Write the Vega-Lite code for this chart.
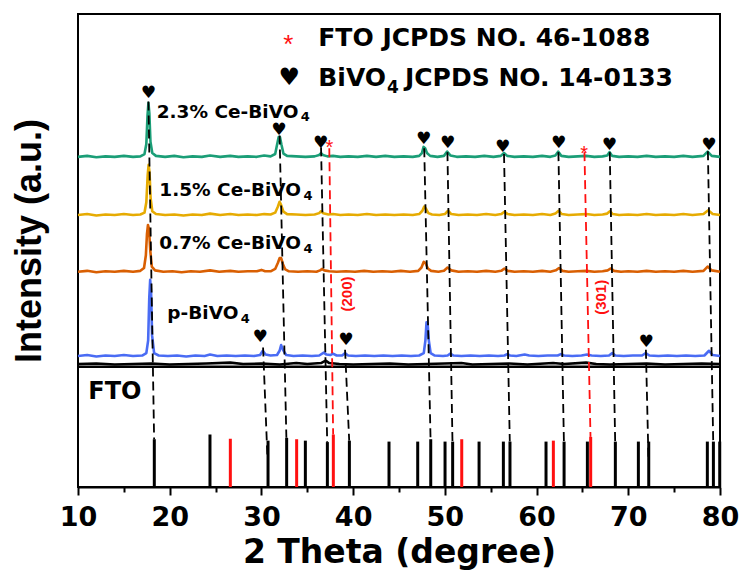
{
  "$schema": "https://vega.github.io/schema/vega-lite/v6.json",
  "width": 642,
  "height": 473,
  "autosize": "none",
  "padding": {"left": 78, "top": 14, "right": 23, "bottom": 92},
  "background": "white",
  "config": {
    "view": {"stroke": "black", "strokeWidth": 2},
    "axis": {"grid": false}
  },
  "datasets": {
    "traces": [
      {"s":"G","x":10,"y":69.8},{"s":"G","x":11,"y":70.0},{"s":"G","x":12,"y":69.7},{"s":"G","x":13,"y":69.9},{"s":"G","x":14,"y":69.8},{"s":"G","x":15,"y":70.0},{"s":"G","x":16,"y":69.8},{"s":"G","x":16.8,"y":69.9},{"s":"G","x":17.25,"y":70.4},{"s":"G","x":17.45,"y":72.5},{"s":"G","x":17.58,"y":78.5},{"s":"G","x":17.68,"y":81.2},{"s":"G","x":17.78,"y":79},{"s":"G","x":17.9,"y":73},{"s":"G","x":18.1,"y":70.6},{"s":"G","x":18.5,"y":70.0},{"s":"G","x":19.5,"y":69.8},{"s":"G","x":20.5,"y":70.0},{"s":"G","x":21.5,"y":69.7},{"s":"G","x":22.5,"y":69.9},{"s":"G","x":23.5,"y":69.8},{"s":"G","x":24.4,"y":70.1},{"s":"G","x":25.5,"y":69.8},{"s":"G","x":26.6,"y":70.0},{"s":"G","x":27.5,"y":69.8},{"s":"G","x":28.5,"y":69.9},{"s":"G","x":29.5,"y":69.8},{"s":"G","x":30.3,"y":70.1},{"s":"G","x":31.0,"y":69.9},{"s":"G","x":31.5,"y":70.4},{"s":"G","x":31.72,"y":72.5},{"s":"G","x":31.88,"y":74.0},{"s":"G","x":32.02,"y":74.0},{"s":"G","x":32.18,"y":72.4},{"s":"G","x":32.4,"y":70.5},{"s":"G","x":32.8,"y":70.0},{"s":"G","x":33.8,"y":69.9},{"s":"G","x":34.8,"y":69.8},{"s":"G","x":35.8,"y":69.9},{"s":"G","x":36.3,"y":70.2},{"s":"G","x":36.5,"y":70.6},{"s":"G","x":36.7,"y":70.2},{"s":"G","x":37.2,"y":69.9},{"s":"G","x":37.8,"y":70.0},{"s":"G","x":38.6,"y":69.8},{"s":"G","x":39.5,"y":69.9},{"s":"G","x":40.5,"y":69.8},{"s":"G","x":41.5,"y":70.0},{"s":"G","x":42.5,"y":69.8},{"s":"G","x":43.5,"y":70.0},{"s":"G","x":44.5,"y":69.8},{"s":"G","x":45.5,"y":69.9},{"s":"G","x":46.5,"y":69.8},{"s":"G","x":47.2,"y":70.0},{"s":"G","x":47.5,"y":70.6},{"s":"G","x":47.68,"y":71.9},{"s":"G","x":47.85,"y":71.6},{"s":"G","x":48.05,"y":70.6},{"s":"G","x":48.4,"y":70.0},{"s":"G","x":49.2,"y":69.8},{"s":"G","x":49.9,"y":70.0},{"s":"G","x":50.25,"y":70.9},{"s":"G","x":50.6,"y":70.1},{"s":"G","x":51.3,"y":69.8},{"s":"G","x":52.3,"y":69.9},{"s":"G","x":53.3,"y":69.8},{"s":"G","x":54.3,"y":70.0},{"s":"G","x":55.3,"y":69.8},{"s":"G","x":56.1,"y":70.0},{"s":"G","x":56.45,"y":70.6},{"s":"G","x":56.8,"y":70.0},{"s":"G","x":57.6,"y":69.8},{"s":"G","x":58.6,"y":69.9},{"s":"G","x":59.6,"y":69.8},{"s":"G","x":60.6,"y":70.0},{"s":"G","x":61.5,"y":69.8},{"s":"G","x":62.05,"y":70.1},{"s":"G","x":62.35,"y":70.9},{"s":"G","x":62.7,"y":70.0},{"s":"G","x":63.5,"y":69.8},{"s":"G","x":64.5,"y":69.9},{"s":"G","x":65.4,"y":70.0},{"s":"G","x":66.3,"y":69.8},{"s":"G","x":67.2,"y":69.9},{"s":"G","x":67.7,"y":70.1},{"s":"G","x":67.95,"y":70.8},{"s":"G","x":68.25,"y":70.0},{"s":"G","x":69,"y":69.8},{"s":"G","x":70,"y":69.9},{"s":"G","x":71,"y":69.8},{"s":"G","x":72,"y":70.0},{"s":"G","x":73,"y":69.8},{"s":"G","x":74,"y":69.9},{"s":"G","x":75,"y":69.8},{"s":"G","x":76,"y":70.0},{"s":"G","x":77,"y":69.8},{"s":"G","x":78.2,"y":70.0},{"s":"G","x":78.65,"y":70.9},{"s":"G","x":79.1,"y":70.0},{"s":"G","x":80,"y":69.8},

      {"s":"Y","x":10,"y":57.5},{"s":"Y","x":11,"y":57.7},{"s":"Y","x":12,"y":57.4},{"s":"Y","x":13,"y":57.6},{"s":"Y","x":14,"y":57.5},{"s":"Y","x":15,"y":57.7},{"s":"Y","x":16,"y":57.5},{"s":"Y","x":16.8,"y":57.6},{"s":"Y","x":17.25,"y":58.0},{"s":"Y","x":17.45,"y":60.2},{"s":"Y","x":17.6,"y":66},{"s":"Y","x":17.7,"y":68.1},{"s":"Y","x":17.8,"y":66.5},{"s":"Y","x":17.92,"y":61},{"s":"Y","x":18.1,"y":58.3},{"s":"Y","x":18.5,"y":57.7},{"s":"Y","x":19.5,"y":57.5},{"s":"Y","x":20.5,"y":57.6},{"s":"Y","x":21.5,"y":57.4},{"s":"Y","x":22.5,"y":57.6},{"s":"Y","x":23.5,"y":57.5},{"s":"Y","x":24.4,"y":57.8},{"s":"Y","x":25.5,"y":57.5},{"s":"Y","x":26.6,"y":57.7},{"s":"Y","x":27.5,"y":57.5},{"s":"Y","x":28.5,"y":57.6},{"s":"Y","x":29.5,"y":57.5},{"s":"Y","x":30.3,"y":57.7},{"s":"Y","x":31.0,"y":57.6},{"s":"Y","x":31.5,"y":58.0},{"s":"Y","x":31.8,"y":59.3},{"s":"Y","x":31.98,"y":60.3},{"s":"Y","x":32.15,"y":59.6},{"s":"Y","x":32.4,"y":58.2},{"s":"Y","x":32.8,"y":57.7},{"s":"Y","x":33.8,"y":57.6},{"s":"Y","x":34.8,"y":57.5},{"s":"Y","x":35.8,"y":57.6},{"s":"Y","x":36.3,"y":57.9},{"s":"Y","x":36.5,"y":58.3},{"s":"Y","x":36.75,"y":57.9},{"s":"Y","x":37.3,"y":57.6},{"s":"Y","x":37.8,"y":57.7},{"s":"Y","x":38.6,"y":57.5},{"s":"Y","x":39.5,"y":57.6},{"s":"Y","x":40.5,"y":57.5},{"s":"Y","x":41.5,"y":57.7},{"s":"Y","x":42.5,"y":57.5},{"s":"Y","x":43.5,"y":57.6},{"s":"Y","x":44.5,"y":57.5},{"s":"Y","x":45.5,"y":57.6},{"s":"Y","x":46.5,"y":57.5},{"s":"Y","x":47.2,"y":57.7},{"s":"Y","x":47.55,"y":58.4},{"s":"Y","x":47.75,"y":59.3},{"s":"Y","x":47.95,"y":58.8},{"s":"Y","x":48.2,"y":57.9},{"s":"Y","x":48.6,"y":57.6},{"s":"Y","x":49.4,"y":57.5},{"s":"Y","x":50.0,"y":57.7},{"s":"Y","x":50.35,"y":58.4},{"s":"Y","x":50.7,"y":57.7},{"s":"Y","x":51.5,"y":57.5},{"s":"Y","x":52.5,"y":57.6},{"s":"Y","x":53.5,"y":57.5},{"s":"Y","x":54.5,"y":57.7},{"s":"Y","x":55.5,"y":57.5},{"s":"Y","x":56.15,"y":57.7},{"s":"Y","x":56.5,"y":58.2},{"s":"Y","x":56.85,"y":57.7},{"s":"Y","x":57.6,"y":57.5},{"s":"Y","x":58.6,"y":57.6},{"s":"Y","x":59.6,"y":57.5},{"s":"Y","x":60.6,"y":57.7},{"s":"Y","x":61.5,"y":57.5},{"s":"Y","x":62.05,"y":57.8},{"s":"Y","x":62.4,"y":58.4},{"s":"Y","x":62.75,"y":57.7},{"s":"Y","x":63.5,"y":57.5},{"s":"Y","x":64.5,"y":57.6},{"s":"Y","x":65.4,"y":57.7},{"s":"Y","x":66.3,"y":57.5},{"s":"Y","x":67.2,"y":57.6},{"s":"Y","x":67.7,"y":57.8},{"s":"Y","x":68.0,"y":58.3},{"s":"Y","x":68.3,"y":57.7},{"s":"Y","x":69,"y":57.5},{"s":"Y","x":70,"y":57.6},{"s":"Y","x":71,"y":57.5},{"s":"Y","x":72,"y":57.7},{"s":"Y","x":73,"y":57.5},{"s":"Y","x":74,"y":57.6},{"s":"Y","x":75,"y":57.5},{"s":"Y","x":76,"y":57.7},{"s":"Y","x":77,"y":57.5},{"s":"Y","x":78.2,"y":57.7},{"s":"Y","x":78.72,"y":58.5},{"s":"Y","x":79.2,"y":57.7},{"s":"Y","x":80,"y":57.5},

      {"s":"O","x":10,"y":45.5},{"s":"O","x":11,"y":45.7},{"s":"O","x":12,"y":45.4},{"s":"O","x":13,"y":45.6},{"s":"O","x":14,"y":45.5},{"s":"O","x":15,"y":45.7},{"s":"O","x":16,"y":45.5},{"s":"O","x":16.8,"y":45.7},{"s":"O","x":17.2,"y":46.3},{"s":"O","x":17.4,"y":49},{"s":"O","x":17.52,"y":53.5},{"s":"O","x":17.63,"y":55.4},{"s":"O","x":17.75,"y":54.5},{"s":"O","x":17.88,"y":50},{"s":"O","x":18.05,"y":46.6},{"s":"O","x":18.4,"y":45.8},{"s":"O","x":19.3,"y":45.5},{"s":"O","x":20.3,"y":45.6},{"s":"O","x":21.3,"y":45.4},{"s":"O","x":22.3,"y":45.6},{"s":"O","x":23.3,"y":45.5},{"s":"O","x":24.4,"y":45.8},{"s":"O","x":25.4,"y":45.5},{"s":"O","x":26.6,"y":45.7},{"s":"O","x":27.5,"y":45.5},{"s":"O","x":28.5,"y":45.6},{"s":"O","x":29.5,"y":45.6},{"s":"O","x":30.0,"y":45.9},{"s":"O","x":30.4,"y":45.6},{"s":"O","x":31.0,"y":45.6},{"s":"O","x":31.5,"y":46.1},{"s":"O","x":31.8,"y":47.4},{"s":"O","x":31.98,"y":48.4},{"s":"O","x":32.15,"y":48.4},{"s":"O","x":32.35,"y":47.1},{"s":"O","x":32.6,"y":46.0},{"s":"O","x":33.0,"y":45.6},{"s":"O","x":34.0,"y":45.5},{"s":"O","x":35.0,"y":45.6},{"s":"O","x":36.0,"y":45.5},{"s":"O","x":36.4,"y":45.8},{"s":"O","x":36.6,"y":46.1},{"s":"O","x":36.85,"y":45.8},{"s":"O","x":37.4,"y":45.6},{"s":"O","x":38.2,"y":45.5},{"s":"O","x":39.2,"y":45.6},{"s":"O","x":40.2,"y":45.5},{"s":"O","x":41.2,"y":45.7},{"s":"O","x":42.2,"y":45.5},{"s":"O","x":43.2,"y":45.6},{"s":"O","x":44.2,"y":45.5},{"s":"O","x":45.2,"y":45.7},{"s":"O","x":46.2,"y":45.5},{"s":"O","x":47.1,"y":45.7},{"s":"O","x":47.45,"y":46.4},{"s":"O","x":47.7,"y":47.6},{"s":"O","x":47.9,"y":47.3},{"s":"O","x":48.15,"y":46.2},{"s":"O","x":48.5,"y":45.7},{"s":"O","x":49.3,"y":45.5},{"s":"O","x":49.9,"y":45.7},{"s":"O","x":50.3,"y":46.4},{"s":"O","x":50.7,"y":45.8},{"s":"O","x":51.5,"y":45.5},{"s":"O","x":52.5,"y":45.6},{"s":"O","x":53.5,"y":45.5},{"s":"O","x":54.5,"y":45.7},{"s":"O","x":55.5,"y":45.5},{"s":"O","x":56.15,"y":45.7},{"s":"O","x":56.5,"y":46.2},{"s":"O","x":56.85,"y":45.7},{"s":"O","x":57.6,"y":45.5},{"s":"O","x":58.6,"y":45.6},{"s":"O","x":59.6,"y":45.5},{"s":"O","x":60.6,"y":45.7},{"s":"O","x":61.5,"y":45.5},{"s":"O","x":62.1,"y":45.8},{"s":"O","x":62.45,"y":46.3},{"s":"O","x":62.8,"y":45.7},{"s":"O","x":63.5,"y":45.5},{"s":"O","x":64.5,"y":45.6},{"s":"O","x":65.4,"y":45.7},{"s":"O","x":66.3,"y":45.5},{"s":"O","x":67.2,"y":45.6},{"s":"O","x":67.75,"y":45.8},{"s":"O","x":68.1,"y":46.2},{"s":"O","x":68.45,"y":45.7},{"s":"O","x":69.2,"y":45.5},{"s":"O","x":70,"y":45.6},{"s":"O","x":71,"y":45.5},{"s":"O","x":72,"y":45.7},{"s":"O","x":73,"y":45.5},{"s":"O","x":74,"y":45.6},{"s":"O","x":75,"y":45.5},{"s":"O","x":76,"y":45.7},{"s":"O","x":77,"y":45.5},{"s":"O","x":78.2,"y":45.7},{"s":"O","x":78.65,"y":46.6},{"s":"O","x":79.1,"y":45.8},{"s":"O","x":80,"y":45.5},

      {"s":"B","x":10,"y":27.7},{"s":"B","x":11,"y":27.9},{"s":"B","x":12,"y":27.6},{"s":"B","x":13,"y":27.8},{"s":"B","x":14,"y":27.7},{"s":"B","x":15,"y":27.9},{"s":"B","x":16,"y":27.7},{"s":"B","x":17.0,"y":27.8},{"s":"B","x":17.45,"y":28.3},{"s":"B","x":17.65,"y":31},{"s":"B","x":17.77,"y":40},{"s":"B","x":17.87,"y":43.8},{"s":"B","x":17.97,"y":41},{"s":"B","x":18.08,"y":32},{"s":"B","x":18.3,"y":28.3},{"s":"B","x":18.8,"y":27.8},{"s":"B","x":19.8,"y":27.7},{"s":"B","x":20.8,"y":27.8},{"s":"B","x":21.8,"y":27.6},{"s":"B","x":22.8,"y":27.8},{"s":"B","x":23.8,"y":27.7},{"s":"B","x":24.4,"y":28.0},{"s":"B","x":25.2,"y":27.7},{"s":"B","x":26.2,"y":27.8},{"s":"B","x":27.2,"y":27.7},{"s":"B","x":28.2,"y":27.8},{"s":"B","x":29.2,"y":27.7},{"s":"B","x":29.85,"y":27.9},{"s":"B","x":30.15,"y":28.8},{"s":"B","x":30.45,"y":28.0},{"s":"B","x":31.0,"y":27.8},{"s":"B","x":31.7,"y":27.9},{"s":"B","x":31.98,"y":28.8},{"s":"B","x":32.15,"y":30.0},{"s":"B","x":32.35,"y":29.0},{"s":"B","x":32.7,"y":27.9},{"s":"B","x":33.5,"y":27.7},{"s":"B","x":34.5,"y":27.8},{"s":"B","x":35.5,"y":27.7},{"s":"B","x":36.3,"y":27.8},{"s":"B","x":36.8,"y":28.4},{"s":"B","x":37.1,"y":28.0},{"s":"B","x":37.5,"y":27.9},{"s":"B","x":37.8,"y":28.2},{"s":"B","x":38.2,"y":27.8},{"s":"B","x":38.8,"y":27.8},{"s":"B","x":39.1,"y":28.3},{"s":"B","x":39.45,"y":27.8},{"s":"B","x":40.3,"y":27.7},{"s":"B","x":41.3,"y":27.8},{"s":"B","x":42.3,"y":27.7},{"s":"B","x":43.3,"y":27.8},{"s":"B","x":44.3,"y":27.7},{"s":"B","x":45.3,"y":27.8},{"s":"B","x":46.3,"y":27.7},{"s":"B","x":47.2,"y":27.8},{"s":"B","x":47.7,"y":28.3},{"s":"B","x":47.88,"y":31},{"s":"B","x":48.0,"y":34.8},{"s":"B","x":48.12,"y":34.5},{"s":"B","x":48.25,"y":31},{"s":"B","x":48.45,"y":28.3},{"s":"B","x":48.9,"y":27.8},{"s":"B","x":49.8,"y":27.7},{"s":"B","x":50.3,"y":27.8},{"s":"B","x":50.6,"y":28.2},{"s":"B","x":50.95,"y":27.8},{"s":"B","x":51.8,"y":27.7},{"s":"B","x":52.8,"y":27.8},{"s":"B","x":53.8,"y":27.7},{"s":"B","x":54.8,"y":27.8},{"s":"B","x":55.8,"y":27.7},{"s":"B","x":56.5,"y":27.8},{"s":"B","x":56.8,"y":28.1},{"s":"B","x":57.1,"y":27.8},{"s":"B","x":57.8,"y":27.7},{"s":"B","x":58.7,"y":28.0},{"s":"B","x":59.2,"y":27.8},{"s":"B","x":60.2,"y":27.7},{"s":"B","x":61.2,"y":27.8},{"s":"B","x":62.3,"y":27.8},{"s":"B","x":62.65,"y":28.1},{"s":"B","x":63.0,"y":27.8},{"s":"B","x":63.9,"y":27.7},{"s":"B","x":64.9,"y":27.8},{"s":"B","x":65.5,"y":28.0},{"s":"B","x":66.0,"y":27.8},{"s":"B","x":67.0,"y":27.7},{"s":"B","x":67.9,"y":27.8},{"s":"B","x":68.25,"y":28.3},{"s":"B","x":68.6,"y":27.8},{"s":"B","x":69.5,"y":27.7},{"s":"B","x":70.5,"y":27.8},{"s":"B","x":71.5,"y":27.8},{"s":"B","x":71.9,"y":28.3},{"s":"B","x":72.3,"y":27.8},{"s":"B","x":73.3,"y":27.7},{"s":"B","x":74.3,"y":27.8},{"s":"B","x":75.3,"y":27.7},{"s":"B","x":76.3,"y":27.8},{"s":"B","x":77.3,"y":27.7},{"s":"B","x":78.3,"y":27.8},{"s":"B","x":78.8,"y":28.8},{"s":"B","x":79.2,"y":27.9},{"s":"B","x":80,"y":27.7},

      {"s":"F","x":10,"y":26.0},{"s":"F","x":12,"y":26.1},{"s":"F","x":14,"y":25.9},{"s":"F","x":16,"y":26.0},{"s":"F","x":18,"y":26.1},{"s":"F","x":20,"y":25.9},{"s":"F","x":22,"y":26.0},{"s":"F","x":24,"y":26.1},{"s":"F","x":26.6,"y":26.3},{"s":"F","x":28,"y":26.0},{"s":"F","x":30,"y":26.1},{"s":"F","x":32,"y":25.9},{"s":"F","x":33.8,"y":26.2},{"s":"F","x":35,"y":26.0},{"s":"F","x":36.5,"y":26.2},{"s":"F","x":37.0,"y":26.7},{"s":"F","x":37.4,"y":26.2},{"s":"F","x":38.5,"y":26.0},{"s":"F","x":40,"y":25.9},{"s":"F","x":42,"y":26.0},{"s":"F","x":44,"y":26.1},{"s":"F","x":46,"y":25.9},{"s":"F","x":48,"y":26.0},{"s":"F","x":50,"y":26.1},{"s":"F","x":51.8,"y":26.2},{"s":"F","x":53,"y":25.9},{"s":"F","x":55,"y":26.0},{"s":"F","x":57,"y":26.1},{"s":"F","x":59,"y":25.9},{"s":"F","x":61.8,"y":26.2},{"s":"F","x":63,"y":26.0},{"s":"F","x":65.4,"y":26.3},{"s":"F","x":66.5,"y":26.0},{"s":"F","x":68,"y":25.9},{"s":"F","x":70,"y":26.0},{"s":"F","x":72,"y":26.1},{"s":"F","x":74,"y":25.9},{"s":"F","x":76,"y":26.0},{"s":"F","x":78,"y":26.1},{"s":"F","x":80,"y":26.0}
    ],
    "stickB": [
      {"x":18.32,"b":0,"h":10.1},{"x":24.39,"b":0,"h":11.1},{"x":30.72,"b":0,"h":9.8},{"x":32.75,"b":0,"h":10.4},{"x":34.79,"b":0,"h":9.8},{"x":37.19,"b":0,"h":9.5},{"x":39.59,"b":0,"h":9.8},{"x":43.91,"b":0,"h":9.6},{"x":47.04,"b":0,"h":9.6},{"x":48.46,"b":0,"h":10.1},{"x":50.02,"b":0,"h":9.6},{"x":50.85,"b":0,"h":9.6},{"x":53.73,"b":0,"h":9.6},{"x":56.38,"b":0,"h":9.6},{"x":57.1,"b":0,"h":9.6},{"x":61.03,"b":0,"h":9.6},{"x":63.0,"b":0,"h":9.6},{"x":65.54,"b":0,"h":9.6},{"x":68.59,"b":0,"h":9.6},{"x":71.1,"b":0,"h":9.6},{"x":72.23,"b":0,"h":9.6},{"x":78.62,"b":0,"h":9.6},{"x":79.28,"b":0,"h":9.6},{"x":79.97,"b":0,"h":9.6}
    ],
    "stickR": [
      {"x":26.61,"b":0,"h":10.2},{"x":33.84,"b":0,"h":10.1},{"x":37.84,"b":0,"h":11.1},{"x":51.84,"b":0,"h":10.1},{"x":61.83,"b":0,"h":9.8},{"x":65.9,"b":0,"h":10.6}
    ],
    "divider": [{"y":25.4}],
    "dashB": [
      {"x":17.68,"y":81.5,"x2":18.3,"y2":10.1},
      {"x":31.98,"y":74.3,"x2":32.72,"y2":10.4},
      {"x":36.5,"y":71.8,"x2":37.17,"y2":9.5},
      {"x":47.75,"y":71.6,"x2":48.44,"y2":10.1},
      {"x":50.28,"y":70.8,"x2":50.83,"y2":9.6},
      {"x":56.45,"y":70.4,"x2":57.08,"y2":9.6},
      {"x":62.38,"y":70.8,"x2":62.98,"y2":9.6},
      {"x":67.98,"y":70.8,"x2":68.57,"y2":9.6},
      {"x":78.68,"y":71.0,"x2":79.26,"y2":9.6},
      {"x":30.18,"y":29.5,"x2":30.66,"y2":6.0},
      {"x":39.12,"y":29.0,"x2":39.57,"y2":9.8},
      {"x":71.92,"y":29.0,"x2":72.2,"y2":6.0}
    ],
    "dashR": [
      {"x":37.4,"y":71.6,"x2":37.82,"y2":11.1},
      {"x":65.22,"y":70.8,"x2":65.88,"y2":10.6}
    ],
    "hearts": [
      {"x":17.67,"y":83.2},{"x":31.9,"y":75.5},{"x":36.46,"y":72.7},{"x":47.69,"y":73.5},{"x":50.3,"y":72.8},{"x":56.3,"y":71.9},{"x":62.4,"y":72.7},{"x":67.94,"y":72.2},{"x":78.8,"y":72.3},{"x":29.85,"y":31.8},{"x":39.22,"y":31.1},{"x":71.94,"y":30.7}
    ],
    "stars": [
      {"x":37.4,"y":72.8},{"x":65.2,"y":71.4}
    ],
    "labels": [
      {"x":18.58,"y":79.3,"t":"2.3% Ce-BiVO"},
      {"x":18.87,"y":62.8,"t":"1.5% Ce-BiVO"},
      {"x":18.87,"y":51.6,"t":"0.7% Ce-BiVO"},
      {"x":19.74,"y":36.7,"t":"p-BiVO"}
    ],
    "subs": [
      {"x":34.3,"y":78.2,"t":"4"},
      {"x":34.6,"y":61.6,"t":"4"},
      {"x":34.6,"y":50.4,"t":"4"},
      {"x":27.75,"y":35.5,"t":"4"}
    ],
    "legendText": [
      {"x":36.2,"y":94.9,"t":"FTO JCPDS NO. 46-1088"},
      {"x":36.2,"y":86.4,"t":"BiVO"},
      {"x":45.65,"y":86.4,"t":"JCPDS NO. 14-0133"}
    ],
    "legendSub": [
      {"x":43.7,"y":84.3,"t":"4"}
    ],
    "legendStar": [{"x":32.93,"y":94.9}],
    "legendHeart": [{"x":33.04,"y":86.4}],
    "planes": [
      {"x":39.37,"y":40.8,"t":"(200)"},
      {"x":66.99,"y":40.1,"t":"(301)"}
    ],
    "fto": [{"x":11.12,"y":20.1,"t":"FTO"}]
  },
  "resolve": {"axis": {"x": "independent", "y": "independent"}},
  "layer": [
    {
      "data": {"name": "stickB"},
      "mark": {"type": "rule", "color": "black", "strokeWidth": 3},
      "encoding": {
        "x": {"field": "x", "type": "quantitative", "scale": {"domain": [10, 80], "nice": false, "zero": false},
              "axis": {"orient": "bottom", "values": [15, 25, 35, 45, 55, 65, 75], "labels": false, "domain": false, "title": null, "tickSize": 5, "tickWidth": 2, "tickColor": "black", "grid": false}},
        "y": {"field": "b", "type": "quantitative", "scale": {"domain": [0, 100], "nice": false, "zero": false}, "axis": null},
        "y2": {"field": "h"}
      }
    },
    {
      "data": {"name": "stickR"},
      "mark": {"type": "rule", "color": "#ff1010", "strokeWidth": 3},
      "encoding": {
        "x": {"field": "x", "type": "quantitative", "axis": null},
        "y": {"field": "b", "type": "quantitative", "axis": null},
        "y2": {"field": "h"}
      }
    },
    {
      "data": {"name": "traces"},
      "mark": {"type": "line", "strokeWidth": 2.6, "strokeJoin": "round"},
      "encoding": {
        "x": {"field": "x", "type": "quantitative",
              "axis": {"orient": "bottom", "values": [10, 20, 30, 40, 50, 60, 70, 80], "format": "d", "tickSize": 8, "tickWidth": 2, "tickColor": "black",
                       "domain": true, "domainColor": "black", "domainWidth": 2,
                       "labelFont": "DejaVu Sans", "labelFontWeight": "bold", "labelFontSize": 27, "labelColor": "black", "labelPadding": 9, "labelOverlap": false, "labelFlush": false,
                       "title": "2 Theta (degree)", "titleFont": "DejaVu Sans", "titleFontWeight": "bold", "titleFontSize": 33, "titleColor": "black", "titlePadding": 6, "grid": false}},
        "y": {"field": "y", "type": "quantitative",
              "axis": {"orient": "left", "labels": false, "ticks": false, "domain": false, "grid": false,
                       "title": "Intensity (a.u.)", "titleFont": "Liberation Sans", "titleFontWeight": "bold", "titleFontSize": 36, "titleColor": "black", "titlePadding": 30, "titleY": 226.5}},
        "color": {"field": "s", "type": "nominal", "legend": null,
                  "scale": {"domain": ["G", "Y", "O", "B", "F"], "range": ["#1b9e77", "#e6ab02", "#d95f02", "#4a6cf4", "#000000"]}}
      }
    },
    {
      "data": {"name": "divider"},
      "mark": {"type": "rule", "color": "black", "strokeWidth": 2.5},
      "encoding": {"y": {"field": "y", "type": "quantitative", "axis": null}}
    },
    {
      "data": {"name": "dashB"},
      "mark": {"type": "rule", "color": "black", "strokeWidth": 1.8, "strokeDash": [9, 5]},
      "encoding": {
        "x": {"field": "x", "type": "quantitative", "axis": null},
        "y": {"field": "y", "type": "quantitative", "axis": null},
        "x2": {"field": "x2"},
        "y2": {"field": "y2"}
      }
    },
    {
      "data": {"name": "dashR"},
      "mark": {"type": "rule", "color": "#ff1010", "strokeWidth": 1.8, "strokeDash": [9, 5]},
      "encoding": {
        "x": {"field": "x", "type": "quantitative", "axis": null},
        "y": {"field": "y", "type": "quantitative", "axis": null},
        "x2": {"field": "x2"},
        "y2": {"field": "y2"}
      }
    },
    {
      "data": {"name": "hearts"},
      "mark": {"type": "text", "text": "♥", "font": "DejaVu Sans", "fontSize": 17, "color": "black", "baseline": "middle", "align": "center"},
      "encoding": {
        "x": {"field": "x", "type": "quantitative", "axis": null},
        "y": {"field": "y", "type": "quantitative", "axis": null}
      }
    },
    {
      "data": {"name": "stars"},
      "mark": {"type": "text", "text": "*", "font": "Liberation Sans", "fontSize": 20, "color": "#ff1010", "baseline": "middle", "align": "center", "dy": 5},
      "encoding": {
        "x": {"field": "x", "type": "quantitative", "axis": null},
        "y": {"field": "y", "type": "quantitative", "axis": null}
      }
    },
    {
      "data": {"name": "labels"},
      "mark": {"type": "text", "font": "DejaVu Sans", "fontWeight": "bold", "fontSize": 18.5, "color": "black", "baseline": "middle", "align": "left"},
      "encoding": {
        "x": {"field": "x", "type": "quantitative", "axis": null},
        "y": {"field": "y", "type": "quantitative", "axis": null},
        "text": {"field": "t"}
      }
    },
    {
      "data": {"name": "subs"},
      "mark": {"type": "text", "font": "DejaVu Sans", "fontWeight": "bold", "fontSize": 13, "color": "black", "baseline": "middle", "align": "left"},
      "encoding": {
        "x": {"field": "x", "type": "quantitative", "axis": null},
        "y": {"field": "y", "type": "quantitative", "axis": null},
        "text": {"field": "t"}
      }
    },
    {
      "data": {"name": "legendText"},
      "mark": {"type": "text", "font": "DejaVu Sans", "fontWeight": "bold", "fontSize": 25, "color": "black", "baseline": "middle", "align": "left"},
      "encoding": {
        "x": {"field": "x", "type": "quantitative", "axis": null},
        "y": {"field": "y", "type": "quantitative", "axis": null},
        "text": {"field": "t"}
      }
    },
    {
      "data": {"name": "legendSub"},
      "mark": {"type": "text", "font": "DejaVu Sans", "fontWeight": "bold", "fontSize": 17, "color": "black", "baseline": "middle", "align": "left"},
      "encoding": {
        "x": {"field": "x", "type": "quantitative", "axis": null},
        "y": {"field": "y", "type": "quantitative", "axis": null},
        "text": {"field": "t"}
      }
    },
    {
      "data": {"name": "legendStar"},
      "mark": {"type": "text", "text": "*", "font": "Liberation Sans", "fontSize": 26, "color": "#ff1010", "baseline": "middle", "align": "center", "dy": 7},
      "encoding": {
        "x": {"field": "x", "type": "quantitative", "axis": null},
        "y": {"field": "y", "type": "quantitative", "axis": null}
      }
    },
    {
      "data": {"name": "legendHeart"},
      "mark": {"type": "text", "text": "♥", "font": "DejaVu Sans", "fontSize": 24, "color": "black", "baseline": "middle", "align": "center"},
      "encoding": {
        "x": {"field": "x", "type": "quantitative", "axis": null},
        "y": {"field": "y", "type": "quantitative", "axis": null}
      }
    },
    {
      "data": {"name": "planes"},
      "mark": {"type": "text", "font": "Liberation Sans", "fontWeight": "bold", "fontSize": 15, "color": "#ff1010", "baseline": "middle", "align": "center", "angle": 270},
      "encoding": {
        "x": {"field": "x", "type": "quantitative", "axis": null},
        "y": {"field": "y", "type": "quantitative", "axis": null},
        "text": {"field": "t"}
      }
    },
    {
      "data": {"name": "fto"},
      "mark": {"type": "text", "font": "DejaVu Sans", "fontWeight": "bold", "fontSize": 24, "color": "black", "baseline": "middle", "align": "left"},
      "encoding": {
        "x": {"field": "x", "type": "quantitative", "axis": null},
        "y": {"field": "y", "type": "quantitative", "axis": null},
        "text": {"field": "t"}
      }
    }
  ]
}
